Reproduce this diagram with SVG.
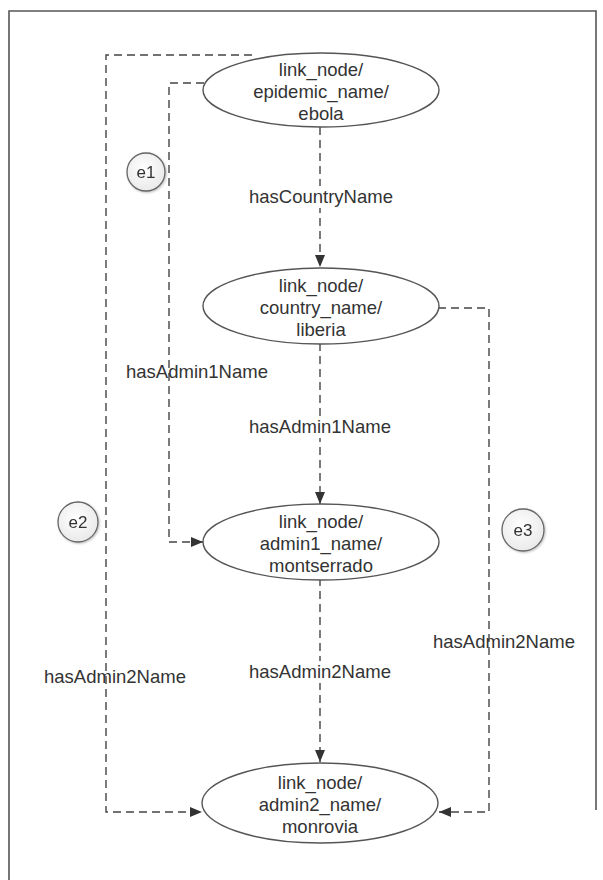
<svg xmlns="http://www.w3.org/2000/svg" width="603" height="880" viewBox="0 0 603 880">
  <style>
    .node ellipse { fill: #ffffff; stroke: #555555; stroke-width: 1.4; }
    .node text, .lbl { font-family: "Liberation Sans", Arial, sans-serif; font-size: 18.5px; fill: #333333; text-anchor: middle; }
    .edge { fill: none; stroke: #444444; stroke-width: 1.4; stroke-dasharray: 8 5; }
    .tag circle { fill: url(#tagFill); stroke: #666666; stroke-width: 1.3; }
    .tag text { font-family: "Liberation Sans", Arial, sans-serif; font-size: 17px; fill: #333333; text-anchor: middle; }
    .lblbg { fill: #ffffff; }
  </style>
  <defs>
    <marker id="arrow" viewBox="0 0 12 10" refX="12" refY="5" markerWidth="12" markerHeight="10" markerUnits="userSpaceOnUse" orient="auto">
      <path d="M0,0 L12,5 L0,10 z" fill="#333333"/>
    </marker>
    <radialGradient id="tagFill" cx="0.45" cy="0.4" r="0.7">
      <stop offset="0" stop-color="#ffffff"/>
      <stop offset="1" stop-color="#e6e6e6"/>
    </radialGradient>
    <filter id="soft" x="-30%" y="-30%" width="160%" height="160%">
      <feDropShadow dx="1" dy="1" stdDeviation="1.2" flood-color="#000000" flood-opacity="0.25"/>
    </filter>
  </defs>

  <rect width="603" height="880" fill="#ffffff"/>
  <!-- frame -->
  <path d="M9,880 V11 H596 V810" fill="none" stroke="#555555" stroke-width="1.6"/>

  <g id="connectors">
    <!-- epidemic -> country -->
    <path class="edge" d="M320,127 V267" marker-end="url(#arrow)"/>
    <!-- country -> admin1 -->
    <path class="edge" d="M320,343 V504" marker-end="url(#arrow)"/>
    <!-- admin1 -> admin2 -->
    <path class="edge" d="M320,578 V762" marker-end="url(#arrow)"/>
    <!-- e1: epidemic -> admin1 -->
    <path class="edge" d="M204,83 H169 V542 H203" marker-end="url(#arrow)"/>
    <!-- e2: epidemic -> admin2 -->
    <path class="edge" d="M252,55 H106 V812 H202" marker-end="url(#arrow)"/>
    <!-- e3: country -> admin2 -->
    <path class="edge" d="M438,308 H489 V812 H439" marker-end="url(#arrow)"/>

    <g id="edge-labels">
      <rect class="lblbg" x="246" y="186" width="150" height="22"/>
      <text class="lbl" x="321" y="203">hasCountryName</text>
      <rect class="lblbg" x="248" y="416" width="144" height="22"/>
      <text class="lbl" x="320" y="433">hasAdmin1Name</text>
      <rect class="lblbg" x="248" y="661" width="144" height="22"/>
      <text class="lbl" x="320" y="678">hasAdmin2Name</text>
      <text class="lbl" x="197" y="378">hasAdmin1Name</text>
      <text class="lbl" x="115" y="683">hasAdmin2Name</text>
      <text class="lbl" x="504" y="648">hasAdmin2Name</text>
    </g>
  </g>

  <g id="node-epidemic" class="node">
    <ellipse cx="321" cy="90" rx="118" ry="37"/>
    <text x="321" y="76">link_node/</text>
    <text x="321" y="98">epidemic_name/</text>
    <text x="321" y="120">ebola</text>
  </g>
  <g id="node-country" class="node">
    <ellipse cx="321" cy="306" rx="118" ry="38"/>
    <text x="321" y="292">link_node/</text>
    <text x="321" y="314">country_name/</text>
    <text x="321" y="336">liberia</text>
  </g>
  <g id="node-admin1" class="node">
    <ellipse cx="321" cy="542" rx="118" ry="38"/>
    <text x="321" y="528">link_node/</text>
    <text x="321" y="550">admin1_name/</text>
    <text x="321" y="572">montserrado</text>
  </g>
  <g id="node-admin2" class="node">
    <ellipse cx="320" cy="803" rx="118" ry="40"/>
    <text x="320" y="789">link_node/</text>
    <text x="320" y="811">admin2_name/</text>
    <text x="320" y="833">monrovia</text>
  </g>

  <g id="tag-e1" class="tag" filter="url(#soft)">
    <circle cx="146" cy="172" r="19"/>
    <text x="146" y="178">e1</text>
  </g>
  <g id="tag-e2" class="tag" filter="url(#soft)">
    <circle cx="78" cy="522" r="20"/>
    <text x="78" y="528">e2</text>
  </g>
  <g id="tag-e3" class="tag" filter="url(#soft)">
    <circle cx="523" cy="530" r="21"/>
    <text x="523" y="536">e3</text>
  </g>
</svg>
